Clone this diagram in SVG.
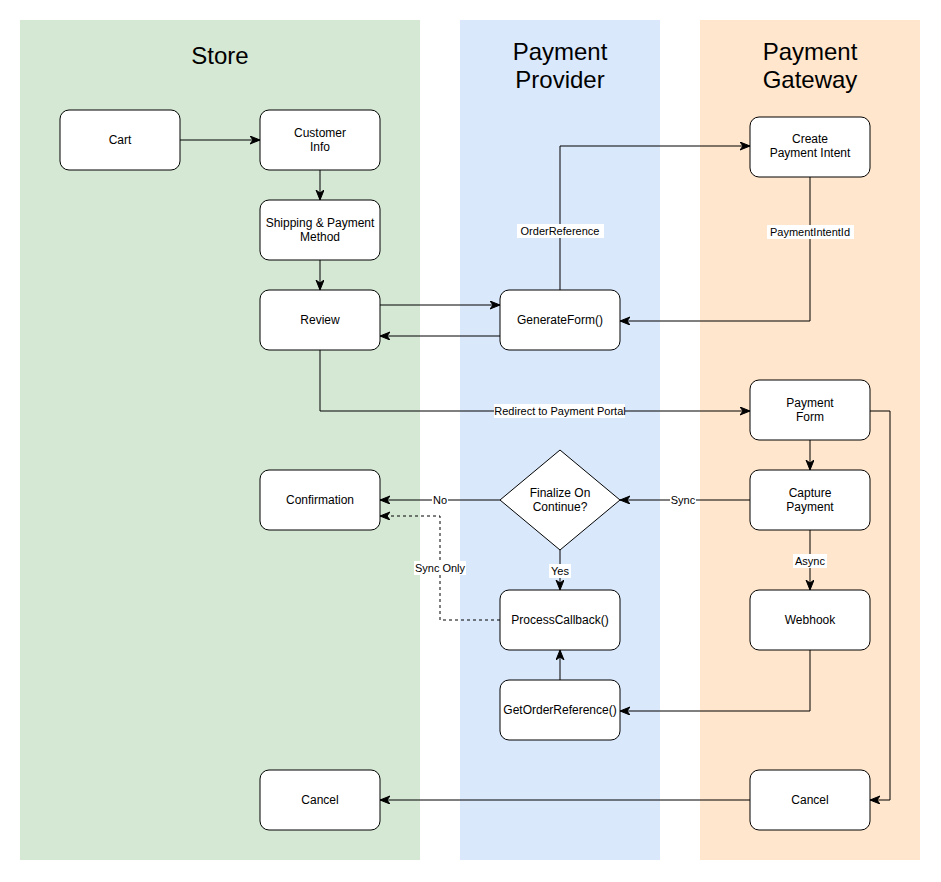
<svg xmlns="http://www.w3.org/2000/svg" width="941" height="882" viewBox="0 0 941 882">
<defs>
<marker id="arr" markerUnits="userSpaceOnUse" markerWidth="12" markerHeight="10" refX="10" refY="4" orient="auto">
<path d="M0,0 L10,4 L0,8 L3,4 Z" fill="#000" stroke="#000" stroke-width="1"/>
</marker>
<style>
.lane-title{font-family:"Liberation Sans",Arial,sans-serif;font-size:24px;fill:#000;text-anchor:middle}
.node rect,.node polygon{fill:#fff;stroke:#000;stroke-width:1}
.node text{font-family:"Liberation Sans",Arial,sans-serif;font-size:12px;fill:#000;text-anchor:middle}
.edge{fill:none;stroke:#000;stroke-width:1}
.dash{stroke-dasharray:3,3}
.lbl-bg{fill:#fff}
.lbl{font-family:"Liberation Sans",Arial,sans-serif;font-size:11px;fill:#000;text-anchor:middle}
</style>
</defs>
<rect width="941" height="882" fill="#fff"/>
<g id="lanes">
<g id="lane-store"><rect x="20" y="20" width="400" height="840" fill="#d5e8d4"/><text class="lane-title" x="220" y="64">Store</text></g>
<g id="lane-provider"><rect x="460" y="20" width="200" height="840" fill="#dae8fc"/><text class="lane-title" x="560" y="60">Payment</text><text class="lane-title" x="560" y="88">Provider</text></g>
<g id="lane-gateway"><rect x="700" y="20" width="220" height="840" fill="#ffe6cc"/><text class="lane-title" x="810" y="60">Payment</text><text class="lane-title" x="810" y="88">Gateway</text></g>
</g>
<g id="connectors">
<path class="edge" d="M180,140 L260,140" marker-end="url(#arr)"/>
<path class="edge" d="M320,170 L320,200" marker-end="url(#arr)"/>
<path class="edge" d="M320,260 L320,290" marker-end="url(#arr)"/>
<path class="edge" d="M380,305 L500,305" marker-end="url(#arr)"/>
<path class="edge" d="M500,336 L380,336" marker-end="url(#arr)"/>
<path class="edge" d="M560,290 L560,146 L750,146" marker-end="url(#arr)"/>
<path class="edge" d="M810,177 L810,321 L620,321" marker-end="url(#arr)"/>
<path class="edge" d="M320,350 L320,411 L750,411" marker-end="url(#arr)"/>
<path class="edge" d="M810,440 L810,470" marker-end="url(#arr)"/>
<path class="edge" d="M870,411 L890,411 L890,800 L870,800" marker-end="url(#arr)"/>
<path class="edge" d="M750,500 L620,500" marker-end="url(#arr)"/>
<path class="edge" d="M810,530 L810,590" marker-end="url(#arr)"/>
<path class="edge" d="M500,500 L380,500" marker-end="url(#arr)"/>
<path class="edge" d="M560,550 L560,590" marker-end="url(#arr)"/>
<path class="edge dash" d="M500,620 L440,620 L440,516 L380,516" marker-end="url(#arr)"/>
<path class="edge" d="M560,680 L560,650" marker-end="url(#arr)"/>
<path class="edge" d="M810,650 L810,711 L620,711" marker-end="url(#arr)"/>
<path class="edge" d="M750,800 L380,800" marker-end="url(#arr)"/>
<g id="edge-labels">
<rect class="lbl-bg" x="517" y="224" width="87" height="14"/><text class="lbl" x="560" y="235">OrderReference</text>
<rect class="lbl-bg" x="767" y="225" width="87" height="14"/><text class="lbl" x="810" y="236">PaymentIntentId</text>
<rect class="lbl-bg" x="494" y="404" width="131" height="14"/><text class="lbl" x="560" y="415">Redirect to Payment Portal</text>
<rect class="lbl-bg" x="670" y="493" width="26" height="14"/><text class="lbl" x="683" y="504">Sync</text>
<rect class="lbl-bg" x="793" y="554" width="34" height="14"/><text class="lbl" x="810" y="565">Async</text>
<rect class="lbl-bg" x="432" y="493" width="16" height="14"/><text class="lbl" x="440" y="504">No</text>
<rect class="lbl-bg" x="549" y="564" width="22" height="14"/><text class="lbl" x="560" y="575">Yes</text>
<rect class="lbl-bg" x="414" y="561" width="52" height="14"/><text class="lbl" x="440" y="572">Sync Only</text>
</g>
</g>
<g id="node-cart" class="node"><rect x="60" y="110" width="120" height="60" rx="9"/><text x="120" y="144">Cart</text></g>
<g id="node-customer-info" class="node"><rect x="260" y="110" width="120" height="60" rx="9"/><text x="320" y="137">Customer</text><text x="320" y="151">Info</text></g>
<g id="node-shipping" class="node"><rect x="260" y="200" width="120" height="60" rx="9"/><text x="320" y="227">Shipping &amp; Payment</text><text x="320" y="241">Method</text></g>
<g id="node-review" class="node"><rect x="260" y="290" width="120" height="60" rx="9"/><text x="320" y="324">Review</text></g>
<g id="node-generateform" class="node"><rect x="500" y="290" width="120" height="60" rx="9"/><text x="560" y="324">GenerateForm()</text></g>
<g id="node-create-intent" class="node"><rect x="750" y="117" width="120" height="60" rx="9"/><text x="810" y="143">Create</text><text x="810" y="157">Payment Intent</text></g>
<g id="node-payment-form" class="node"><rect x="750" y="380" width="120" height="60" rx="9"/><text x="810" y="407">Payment</text><text x="810" y="421">Form</text></g>
<g id="node-capture" class="node"><rect x="750" y="470" width="120" height="60" rx="9"/><text x="810" y="497">Capture</text><text x="810" y="511">Payment</text></g>
<g id="node-webhook" class="node"><rect x="750" y="590" width="120" height="60" rx="9"/><text x="810" y="624">Webhook</text></g>
<g id="node-gateway-cancel" class="node"><rect x="750" y="770" width="120" height="60" rx="9"/><text x="810" y="804">Cancel</text></g>
<g id="node-confirmation" class="node"><rect x="260" y="470" width="120" height="60" rx="9"/><text x="320" y="504">Confirmation</text></g>
<g id="node-finalize" class="node"><polygon points="560,450 620,500 560,550 500,500"/><text x="560" y="497">Finalize On</text><text x="560" y="511">Continue?</text></g>
<g id="node-processcallback" class="node"><rect x="500" y="590" width="120" height="60" rx="9"/><text x="560" y="624">ProcessCallback()</text></g>
<g id="node-getorderref" class="node"><rect x="500" y="680" width="120" height="60" rx="9"/><text x="560" y="714">GetOrderReference()</text></g>
<g id="node-store-cancel" class="node"><rect x="260" y="770" width="120" height="60" rx="9"/><text x="320" y="804">Cancel</text></g>
</svg>
